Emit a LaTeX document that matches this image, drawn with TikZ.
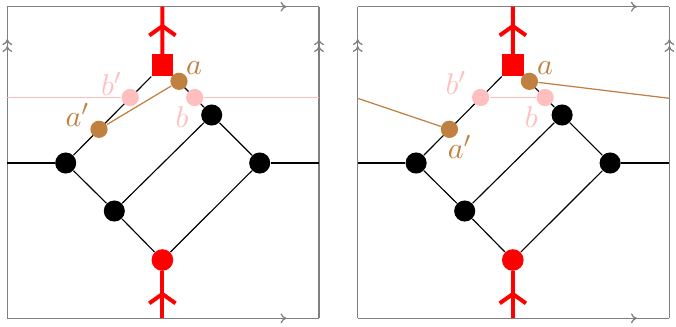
\documentclass[tikz,border=0pt]{standalone}
\usetikzlibrary{arrows.meta,decorations.markings,backgrounds}
\definecolor{fr}{gray}{0.5}
\definecolor{pk}{rgb}{1,0.75,0.75}
\tikzset{
  x=0.365pt, y=-0.365pt,
  dot/.style={circle,fill=black,inner sep=0pt,minimum size=7.7pt},
  rdot/.style={circle,fill=red,inner sep=0pt,minimum size=7.9pt},
  pdot/.style={circle,fill=pk,inner sep=0pt,minimum size=6.3pt},
  bdot/.style={circle,fill=brown,inner sep=0pt,minimum size=6.3pt},
  rsq/.style={rectangle,fill=red,inner sep=0pt,minimum size=7.9pt},
  lab/.style={inner sep=0pt,font=\fontsize{11}{13}\selectfont},
  edge/.style={line width=0.42pt},
  frame/.style={draw=fr,line width=0.47pt},
  redline/.style={red,line width=1.45pt},
  pinkline/.style={pk,line width=0.4pt},
  brownline/.style={brown,line width=0.45pt},
  redarr/.style={postaction={decorate,decoration={markings,
      mark=at position #1 with {\arrow[red,line width=1.45pt]{Straight Barb[length=3.4pt,width=9.6pt]}}}}},
  harr/.style={postaction={decorate,decoration={markings,
      mark=at position 0.896 with {\arrow[fr,line width=0.47pt]{Computer Modern Rightarrow[length=2.2pt,width=3.6pt]}}}}},
  varr/.style={postaction={decorate,decoration={markings,
      mark=at position 0.874 with {\arrow[fr,line width=0.47pt]{Computer Modern Rightarrow[length=2.2pt,width=3.6pt]}},
      mark=at position 0.896 with {\arrow[fr,line width=0.47pt]{Computer Modern Rightarrow[length=2.2pt,width=3.6pt]}}}}},
}
\newcommand\panelbase[2]{%
  \begin{scope}[shift={(#2,0)}]
    \coordinate (#1c1) at (7.3,318.3);
    \coordinate (#1c2) at (319,318.3);
    \coordinate (#1c3) at (319,6.7);
    \coordinate (#1c4) at (7.3,6.7);
    \coordinate (#1rt) at (162.4,6.7);
    \coordinate (#1rb) at (162.4,318.3);
    \coordinate (#1el) at (7.3,163);
    \coordinate (#1er) at (319,163);
    \coordinate (#1pl) at (7.3,97.5);
    \coordinate (#1pr) at (319,97.5);
    \node[rsq] (#1sq) at (162.5,65.2) {};
    \node[rdot] (#1rc) at (162.4,260) {};
    \node[dot] (#1n1) at (65.7,163) {};
    \node[dot] (#1n2) at (114.3,211) {};
    \node[dot] (#1n3) at (211.7,115) {};
    \node[dot] (#1n4) at (259.7,163) {};
    \node[bdot] (#1a) at (179,81.3) {};
    \node[bdot] (#1ap) at (99,129.3) {};
    \node[pdot] (#1bp) at (130.2,97.5) {};
    \node[pdot] (#1b) at (194.7,97.5) {};
  \end{scope}
  \begin{pgfonlayer}{background}
    \draw[frame,harr] (#1c4) -- (#1c3);
    \draw[frame,harr] (#1c1) -- (#1c2);
    \draw[frame,varr] (#1c1) -- (#1c4);
    \draw[frame,varr] (#1c2) -- (#1c3);
    \draw[edge] (#1el) -- (#1n1);
    \draw[edge] (#1n4) -- (#1er);
    \draw[edge] (#1n1) -- (#1n2);
    \draw[edge] (#1n2) -- (#1rc);
    \draw[edge] (#1rc) -- (#1n4);
    \draw[edge] (#1n4) -- (#1n3);
    \draw[edge] (#1n3) -- (#1n2);
    \draw[edge] (#1n1) -- (#1sq);
    \draw[edge] (#1n3) -- (#1sq);
    \draw[redline,redarr=0.64] (#1sq) -- (#1rt);
    \draw[redline,redarr=0.57] (#1rb) -- (#1rc);
  \end{pgfonlayer}
}
\begin{document}
\begin{tikzpicture}
  \useasboundingbox (0,0) rectangle (676,326);
  % left panel
  \panelbase{L}{0}
  \begin{pgfonlayer}{background}
    \draw[pinkline] (Lpl) -- (Lbp);
    \draw[pinkline] (Lb) -- (Lpr);
    \draw[brownline] (Lap) -- (La);
  \end{pgfonlayer}
  \node[lab,brown] (La-l) at (194,68) {$a$};
  \node[lab,pk] (Lbp-l) at (111.5,84) {$b'$};
  \node[lab,brown] (Lap-l) at (77.5,115) {$a'$};
  \node[lab,pk] (Lb-l) at (182,117.5) {$b$};
  % right panel
  \panelbase{R}{350.4}
  \coordinate (Rwl) at (357.7,98.3);
  \coordinate (Rwr) at (669.4,98.3);
  \begin{pgfonlayer}{background}
    \draw[pinkline] (Rbp) -- (Rb);
    \draw[brownline] (Rap) -- (Rwl);
    \draw[brownline] (Ra) -- (Rwr);
  \end{pgfonlayer}
  \node[lab,brown] (Ra-l) at (545,68) {$a$};
  \node[lab,pk] (Rbp-l) at (456,83.3) {$b'$};
  \node[lab,brown] (Rap-l) at (459.7,146.7) {$a'$};
  \node[lab,pk] (Rb-l) at (531.3,117.5) {$b$};
\end{tikzpicture}
\end{document}
